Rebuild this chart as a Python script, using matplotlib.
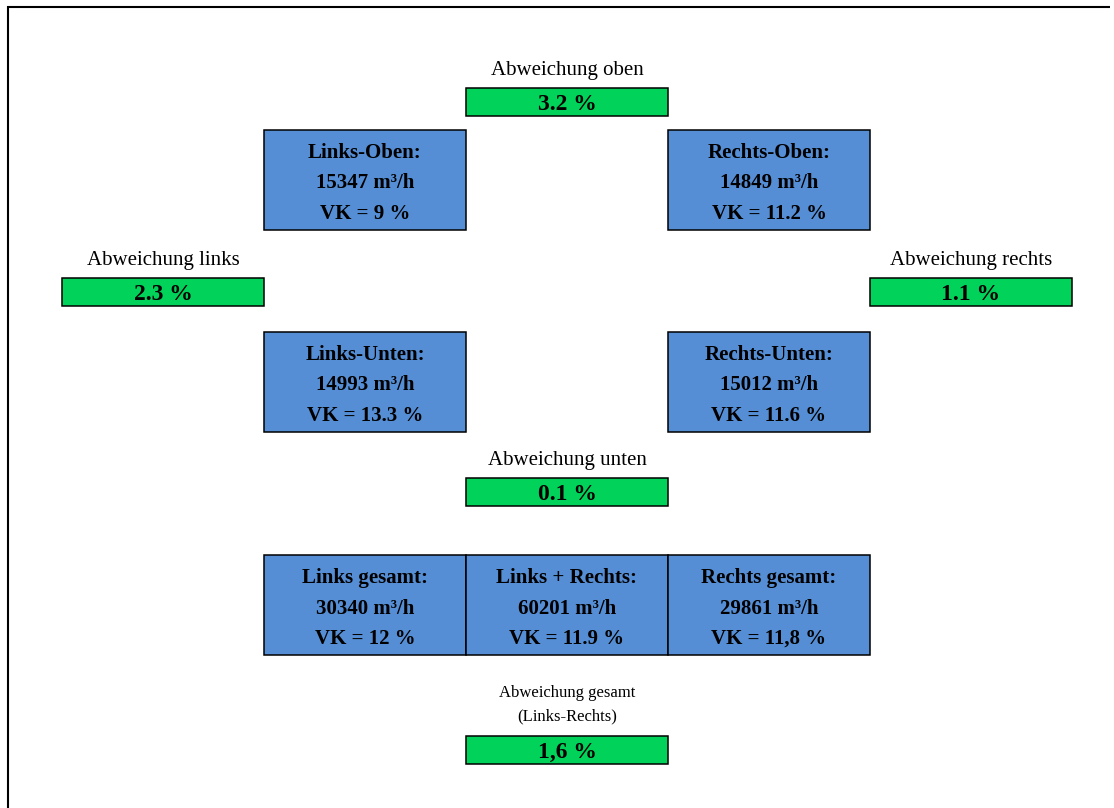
import matplotlib
matplotlib.use("Agg")
import matplotlib.pyplot as plt
from matplotlib.patches import Rectangle

# corner measurements
corner_names = ["Links-Oben", "Rechts-Oben", "Links-Unten", "Rechts-Unten"]
corner_flow = [15347, 14849, 14993, 15012]
corner_vk = ["9", "11.2", "13.3", "11.6"]

# deviations between neighbouring corners
dev_labels = ["Abweichung oben", "Abweichung links", "Abweichung rechts", "Abweichung unten"]
dev_values = ["3.2", "2.3", "1.1", "0.1"]

# totals row
total_names = ["Links gesamt", "Links + Rechts", "Rechts gesamt"]
total_flow = [30340, 60201, 29861]
total_vk = ["12", "11.9", "11,8"]

overall_label = ["Abweichung gesamt", "(Links-Rechts)"]
overall_value = "1,6"

BLUE = "#558ed5"
GREEN = "#00d25a"
FONT = "Liberation Serif"

# layout (pixel grid of the figure)
W, H = 1114, 808
col_x0, col_w = 62, 202
corner_cells = [(1, 130), (3, 130), (1, 332), (3, 332)]   # (column, top)
dev_cells = [(2, 88), (0, 278), (4, 278), (2, 478)]
box_h, bar_h = 100, 28


def cx(col):
    return col_x0 + col * col_w


fig = plt.figure(figsize=(W / 100, H / 100), dpi=100)
ax = fig.add_axes([0, 0, 1, 1])
ax.set_xlim(0, W)
ax.set_ylim(H, 0)
ax.axis("off")

# outer frame, only top and left edges fall inside the picture
ax.plot([7, 1110], [6.5, 6.5], color="black", lw=1.5, solid_capstyle="butt")
ax.plot([7.5, 7.5], [6, H], color="black", lw=1.5, solid_capstyle="butt")


def info_box(col, top, name, flow, vk):
    ax.add_patch(Rectangle((cx(col), top), col_w, box_h, fc=BLUE, ec="black", lw=1.1))
    lines = [name + ":", f"{flow} m³/h", f"VK = {vk} %"]
    for i, s in enumerate(lines):
        ax.text(cx(col) + col_w / 2, top + 28 + i * 30.5, s, ha="center", va="baseline",
                fontsize=15, fontweight="bold", family=FONT)


def green_bar(col, top, value):
    ax.add_patch(Rectangle((cx(col), top), col_w, bar_h, fc=GREEN, ec="black", lw=1.1))
    ax.text(cx(col) + col_w / 2, top + 21.5, f"{value} %", ha="center", va="baseline",
            fontsize=17, fontweight="bold", family=FONT)


for (col, top), n, f, v in zip(corner_cells, corner_names, corner_flow, corner_vk):
    info_box(col, top, n, f, v)

for (col, top), lab, val in zip(dev_cells, dev_labels, dev_values):
    green_bar(col, top, val)
    ax.text(cx(col) + col_w / 2, top - 12.5, lab, ha="center", va="baseline",
            fontsize=15, family=FONT)

for i, (n, f, v) in enumerate(zip(total_names, total_flow, total_vk)):
    info_box(1 + i, 555, n, f, v)

# overall deviation
green_bar(2, 736, overall_value)
for i, s in enumerate(overall_label):
    ax.text(cx(2) + col_w / 2, 697 + i * 23.5, s, ha="center", va="baseline",
            fontsize=12, family=FONT)

fig.savefig("out.png", dpi=100)
